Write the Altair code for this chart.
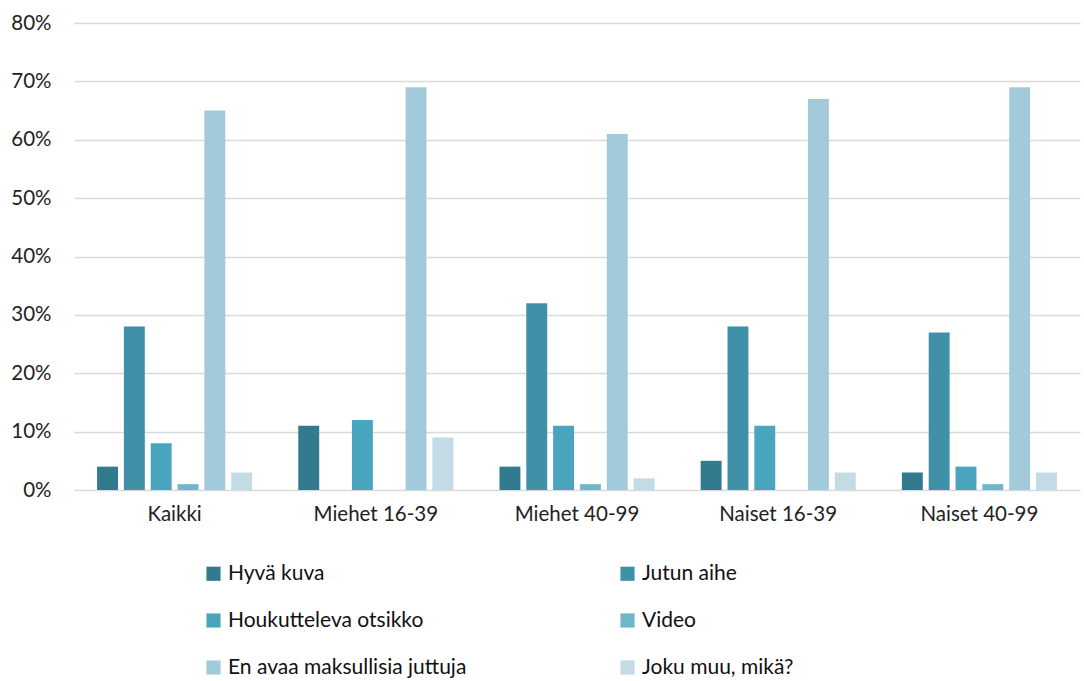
import altair as alt
import pandas as pd

groups = ["Kaikki", "Miehet 16-39", "Miehet 40-99", "Naiset 16-39", "Naiset 40-99"]
series = ["Hyvä kuva", "Jutun aihe", "Houkutteleva otsikko", "Video",
          "En avaa maksullisia juttuja", "Joku muu, mikä?"]
colors = ["#327b8e", "#4091a8", "#48a5bd", "#70b6cb", "#a2cada", "#c2dbe4"]

hyva = [4, 11, 4, 5, 3]
jutun = [28, 0, 32, 28, 27]
houk = [8, 12, 11, 11, 4]
video = [1, 0, 1, 0, 1]
en_avaa = [65, 69, 61, 67, 69]
joku = [3, 9, 2, 3, 3]

vals = [hyva, jutun, houk, video, en_avaa, joku]
rows = []
for s, v in zip(series, vals):
    for g, x in zip(groups, v):
        rows.append({"group": g, "series": s, "value": x / 100})
df = pd.DataFrame(rows)

FONT = "Lato"

chart = alt.Chart(df).mark_bar().encode(
    x=alt.X("group:N", sort=groups, title=None,
            scale=alt.Scale(paddingInner=0.2, paddingOuter=0.1),
            axis=alt.Axis(labelAngle=0, ticks=False, domain=False, labelPadding=14,
                          labelFontSize=20.5, labelColor="#222222", labelFont=FONT)),
    xOffset=alt.XOffset("series:N", sort=series,
                        scale=alt.Scale(paddingInner=0.22, paddingOuter=0.11)),
    y=alt.Y("value:Q", title=None,
            scale=alt.Scale(domain=[0, 0.8], nice=False),
            axis=alt.Axis(format=".0%", values=[0, .1, .2, .3, .4, .5, .6, .7, .8],
                          ticks=False, domain=False, labelPadding=23,
                          labelFontSize=20.5, labelColor="#222222", labelFont=FONT,
                          gridColor="#d9d9d9", gridWidth=1.5)),
    color=alt.Color("series:N", sort=series,
                    scale=alt.Scale(domain=series, range=colors),
                    legend=alt.Legend(title=None, orient="none", legendX=129, legendY=540,
                                      direction="horizontal",
                                      columns=2, columnPadding=150, rowPadding=25,
                                      symbolType="square", symbolSize=200,
                                      symbolStrokeWidth=0, labelFontSize=21,
                                      labelFont=FONT, labelColor="#111111",
                                      labelLimit=400)),
).properties(
    width=1006, height=467,
    autosize=alt.AutoSizeParams(type="none"),
    padding={"left": 74, "top": 23, "right": 4, "bottom": 191},
).configure_view(stroke=None)

chart.save("out.html", embed_options={"renderer": "svg", "actions": False})
